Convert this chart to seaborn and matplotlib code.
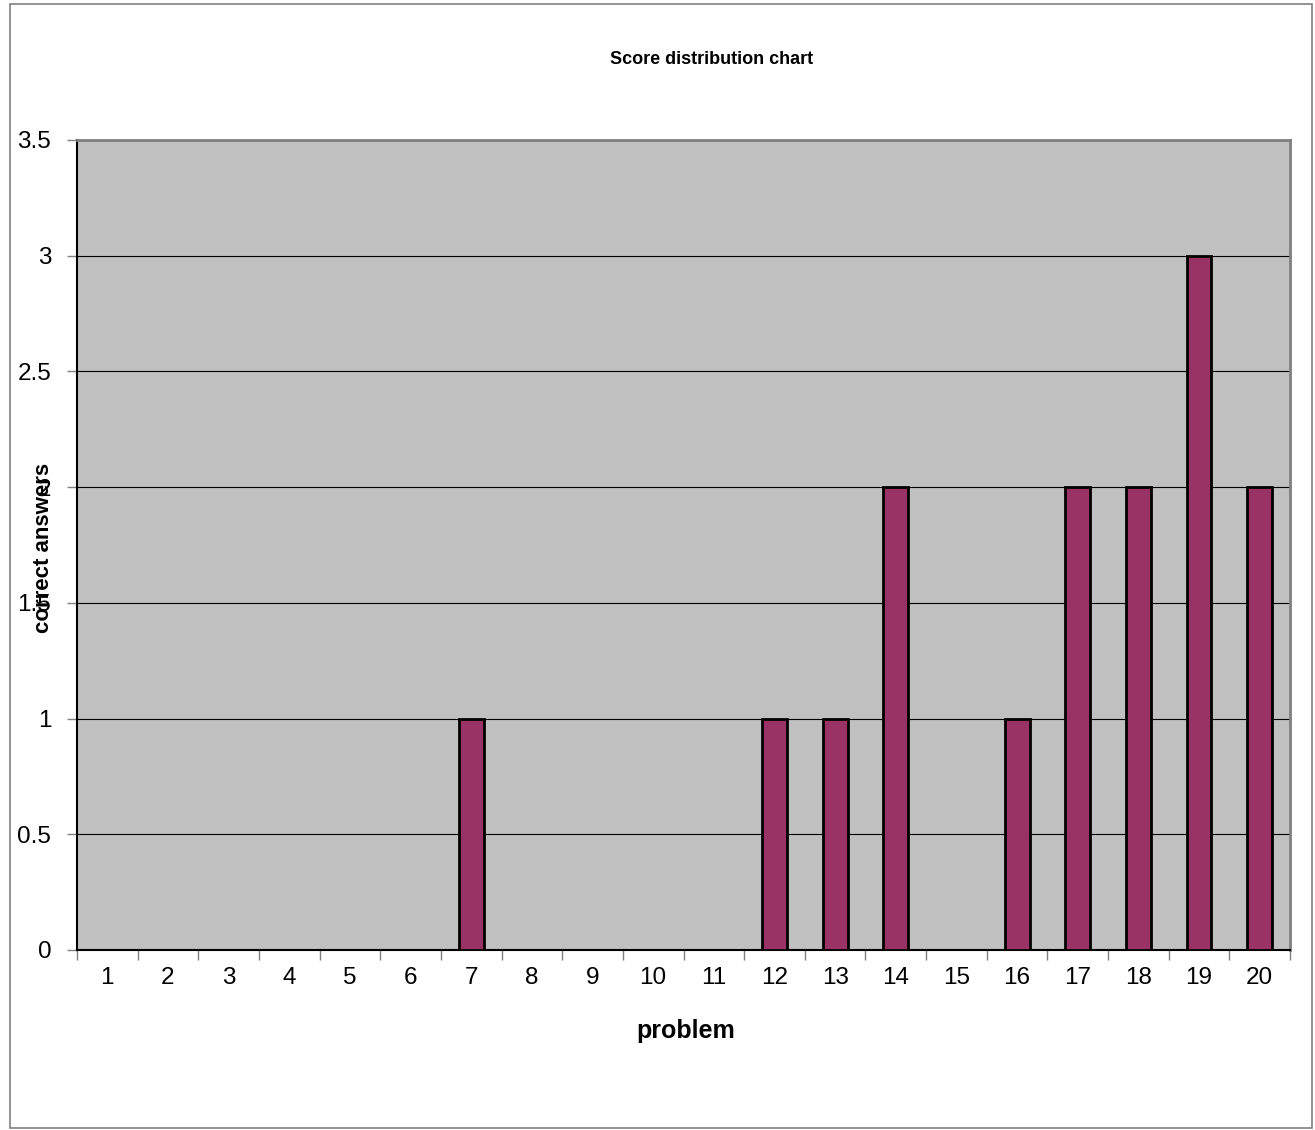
import numpy as np
import pandas as pd
import seaborn as sns
import matplotlib.pyplot as plt
from matplotlib.patches import Rectangle

# data
problems = [str(i) for i in range(1, 21)]
correct = [0, 0, 0, 0, 0, 0, 1, 0, 0, 0, 0, 1, 1, 2, 0, 1, 2, 2, 3, 2]
y_ticks = [0, 0.5, 1, 1.5, 2, 2.5, 3, 3.5]
y_tick_labels = ['0', '0.5', '1', '1.5', '2', '2.5', '3', '3.5']

df = pd.DataFrame({'problem': problems, 'correct answers': correct})

sns.set_style('white')
plt.rcParams['font.family'] = ['Liberation Sans', 'DejaVu Sans']
plt.rcParams['text.color'] = 'black'

fig = plt.figure(figsize=(13.15, 11.3), dpi=100)
ax = fig.add_axes([77 / 1315, 1 - 950 / 1130, 1213 / 1315, 810 / 1130])
ax.set_facecolor('#C0C0C0')

sns.barplot(data=df, x='problem', y='correct answers', order=problems,
            color='#993366', width=0.41, edgecolor='black', linewidth=2,
            saturation=1, ax=ax, zorder=3)

ax.set_ylim(0, 3.5)
ax.set_xlim(-0.5, 19.5)
ax.set_yticks(y_ticks)
ax.set_yticklabels(y_tick_labels, fontsize=17.5)
ax.yaxis.grid(True, color='black', linewidth=0.8, zorder=1)
ax.set_axisbelow(True)

# tick marks between categories, labels in the middle
ax.set_xticks(np.arange(20))
ax.set_xticklabels(problems, fontsize=17.5)
ax.set_xticks(np.arange(-0.5, 20, 1), minor=True)
ax.tick_params(axis='x', which='major', length=0, pad=12, labelcolor='black')
ax.tick_params(axis='x', which='minor', length=7, width=1, color='#808080', direction='out', bottom=True)
ax.tick_params(axis='y', which='major', length=7, width=1, color='#808080', left=True, pad=11.5,
               labelcolor='black')

for side in ['top', 'right']:
    ax.spines[side].set_color('#808080')
    ax.spines[side].set_linewidth(2)
for side in ['left', 'bottom']:
    ax.spines[side].set_color('black')
    ax.spines[side].set_linewidth(1.5)

ax.set_xlabel('')
ax.set_ylabel('')
fig.text(686 / 1315, 1 - 1038 / 1130, 'problem', ha='center', va='baseline',
         fontsize=18, fontweight='bold')
fig.text(44 / 1315, 1 - 548 / 1130, 'correct answers', ha='center', va='center',
         fontsize=16, fontweight='bold', rotation=90)
fig.text(712 / 1315, 1 - 64 / 1130, 'Score distribution chart', ha='center', va='baseline',
         fontsize=13, fontweight='bold')

# chart area border
fig.patches.append(Rectangle((10 / 1315, 2 / 1130), 1302 / 1315, 1124 / 1130,
                             transform=fig.transFigure, fill=False,
                             edgecolor='#808080', linewidth=1.2))

fig.savefig('out.png', dpi=100)
plt.close(fig)
